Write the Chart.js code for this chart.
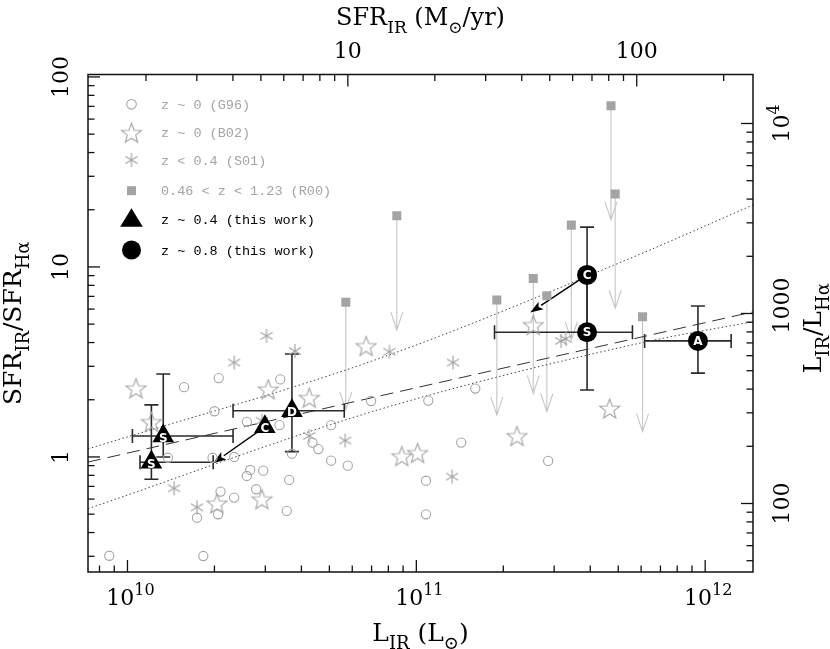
<!DOCTYPE html>
<html>
<head>
<meta charset="utf-8">
<script src="https://cdn.jsdelivr.net/npm/chart.js@4.4.0/dist/chart.umd.min.js"></script>
<style>
  html, body { margin: 0; padding: 0; background: #fff; }
  #wrap { width: 830px; height: 649px; position: relative; }
</style>
</head>
<body>
<div id="wrap"><canvas id="myChart"></canvas></div>
<script>
// values (L_IR in Lsun, ratio = SFR_IR / SFR_Halpha)

// z ~ 0 (G96), open circles
const g96L = [8.65e9, 1.83e10, 1.57e10, 2.07e10, 3.38e10, 2.00e10, 2.59e10, 3.36e10, 1.38e10, 1.97e10, 2.34e10, 3.71e10,
  4.37e10, 4.58e10, 5.07e10, 5.07e10, 5.79e10, 6.97e10, 2.66e10, 2.59e10, 2.95e10, 3.63e10, 2.79e10, 2.10e10,
  2.34e10, 2.06e10, 1.74e10, 3.56e10, 1.10e11, 1.60e11, 1.43e11, 2.86e11, 1.08e11, 1.08e11];
const g96Ratio = [0.302, 0.301, 2.33, 2.60, 2.56, 1.74, 1.53, 1.47, 0.99, 0.99, 1.00, 1.04,
  1.19, 1.10, 1.47, 0.956, 0.900, 1.97, 0.854, 0.794, 0.847, 0.757, 0.676, 0.657,
  0.611, 0.499, 0.479, 0.520, 1.98, 2.29, 1.19, 0.953, 0.750, 0.499];

// z ~ 0 (B02), open stars
const b02L = [1.07e10, 1.21e10, 3.07e10, 4.26e10, 6.70e10, 2.04e10, 2.92e10, 2.54e11, 4.67e11, 2.23e11, 8.91e10, 1.01e11];
const b02Ratio = [2.30, 1.53, 2.27, 2.05, 3.84, 0.570, 0.599, 4.95, 1.80, 1.29, 1.01, 1.05];

// z < 0.4 (S01), asterisks
const s01L = [3.03e10, 2.34e10, 3.80e10, 4.26e10, 5.67e10, 1.45e10, 1.74e10, 2.92e10, 8.07e10, 1.34e11, 3.17e11, 3.29e11, 1.33e11];
const s01Ratio = [4.34, 3.14, 3.61, 1.29, 1.22, 0.684, 0.543, 1.55, 3.58, 3.14, 4.08, 4.18, 0.788];

// 0.46 < z < 1.23 (R00), filled squares with arrows down to r00Limit
const r00L = [5.70e10, 8.56e10, 1.90e11, 2.54e11, 2.83e11, 3.44e11, 4.72e11, 4.88e11, 6.07e11];
const r00Ratio = [6.52, 18.6, 6.70, 8.69, 7.06, 16.6, 70.6, 24.2, 5.47];
const r00Limit = [1.77, 4.66, 1.66, 2.16, 1.73, 4.13, 17.7, 6.06, 1.36];

// z ~ 0.4 (this work), triangles
const z04Tag = ['S', 'S', 'D', 'C'];
const z04L = [1.33e10, 1.21e10, 3.71e10, 2.99e10];
const z04Ratio = [1.29, 0.938, 1.75, 1.44];
const z04LLo = [1.04e10, 1.105e10, 2.32e10, null];
const z04LHi = [2.32e10, 1.98e10, 5.63e10, null];
const z04RatioLo = [1.00, 0.763, 1.066, null];
const z04RatioHi = [2.73, 1.88, 3.48, null];

// z ~ 0.8 (this work), filled circles
const z08Tag = ['C', 'S', 'A'];
const z08L = [3.90e11, 3.90e11, 9.44e11];
const z08Ratio = [9.08, 4.53, 4.08];
const z08LLo = [null, 1.865e11, 6.17e11];
const z08LHi = [null, 5.60e11, 1.23e12];
const z08RatioLo = [4.53, 2.25, 2.76];
const z08RatioHi = [16.2, 9.08, 6.23];

// shift arrows
const shiftFromL = [2.99e10, 3.90e11];
const shiftFromRatio = [1.44, 9.08];
const shiftToL = [1.98e10, 2.48e11];
const shiftToRatio = [0.927, 5.75];

// relations drawn as lines
const fitDashL = [7.3e9, 6.92e10, 1.464e12];
const fitDashRatio = [0.94, 2.04, 5.80];
const fitHiL = [7.3e9, 7.49e10, 5.50e11, 1.464e12];
const fitHiRatio = [1.102, 3.31, 11.1, 21.2];
const fitLoL = [7.3e9, 7.49e10, 6.12e11, 1.464e12];
const fitLoRatio = [0.534, 1.782, 4.01, 5.15];

const legendLabels = ['z ~ 0 (G96)', 'z ~ 0 (B02)', 'z < 0.4 (S01)', '0.46 < z < 1.23 (R00)', 'z ~ 0.4 (this work)', 'z ~ 0.8 (this work)'];

// axis ranges and conversions for the top / right axes
const xMin = 7.3e9, xMax = 1.464e12;
const yMin = 0.248, yMax = 103;
const SFR_PER_LIR = 1.726e-10;
const LRATIO_PER_SFRRATIO = 175.8;

const GREY = '#a4a4a4';
const LIMIT_GREY = '#c6c6c6';
const SERIF = '"DejaVu Serif", "Liberation Serif", serif';

const pts = (xs, ys) => xs.map((x, i) => ({ x: x, y: ys[i] }));

function makeStar(R, color) {
  const s = Math.ceil(2 * R + 4);
  const c = document.createElement('canvas');
  c.width = s; c.height = s;
  const g = c.getContext('2d');
  g.translate(s / 2, s / 2 + R * 0.1);
  g.beginPath();
  for (let i = 0; i < 10; i++) {
    const r = i % 2 ? R * 0.42 : R;
    const a = -Math.PI / 2 + i * Math.PI / 5;
    g.lineTo(r * Math.cos(a), r * Math.sin(a));
  }
  g.closePath();
  g.strokeStyle = color; g.lineWidth = 1.1; g.stroke();
  return c;
}

function makeAsterisk(R, color) {
  const s = Math.ceil(2 * R + 4);
  const c = document.createElement('canvas');
  c.width = s; c.height = s;
  const g = c.getContext('2d');
  g.translate(s / 2, s / 2);
  g.strokeStyle = color; g.lineWidth = 1.2;
  [90, 30, -30].forEach(d => {
    const a = d * Math.PI / 180;
    g.beginPath();
    g.moveTo(-R * Math.cos(a), -R * Math.sin(a));
    g.lineTo(R * Math.cos(a), R * Math.sin(a));
    g.stroke();
  });
  return c;
}

const starImg = makeStar(10.5, GREY);
const asteriskImg = makeAsterisk(7, GREY);

// text with sub/superscripts: parts = [[text, 'n'|'sub'|'sup'], ...]
function rich(ctx, parts, x, y, size, align) {
  const small = Math.round(size * 0.72);
  let w = 0;
  const items = parts.map(([t, k]) => {
    const fs = k === 'n' ? size : small;
    ctx.font = fs + 'px ' + SERIF;
    const tw = ctx.measureText(t).width;
    w += tw;
    return { t: t, k: k, fs: fs, tw: tw };
  });
  let cx = align === 'center' ? x - w / 2 : (align === 'right' ? x - w : x);
  ctx.textAlign = 'left';
  ctx.textBaseline = 'alphabetic';
  items.forEach(it => {
    ctx.font = it.fs + 'px ' + SERIF;
    const dy = it.k === 'sub' ? size * 0.32 : (it.k === 'sup' ? -size * 0.45 : 0);
    ctx.fillText(it.t, cx, y + dy);
    cx += it.tw;
  });
}

function richRot(ctx, parts, x, y, size) {
  ctx.save();
  ctx.translate(x, y);
  ctx.rotate(-Math.PI / 2);
  rich(ctx, parts, 0, 0, size, 'center');
  ctx.restore();
}

function logValues(min, max) {
  const out = [];
  for (let e = Math.floor(Math.log10(min)); e <= Math.ceil(Math.log10(max)); e++) {
    for (let m = 1; m < 10; m++) {
      const v = m * Math.pow(10, e);
      if (v >= min * 0.9999 && v <= max * 1.0001) out.push({ v: v, major: m === 1 });
    }
  }
  return out;
}

function drawTicks(ctx, scale, side, a) {
  logValues(scale.min, scale.max).forEach(t => {
    const len = t.major ? 12 : 6.5;
    const p = scale.getPixelForValue(t.v);
    ctx.beginPath();
    if (side === 'bottom') { ctx.moveTo(p, a.bottom); ctx.lineTo(p, a.bottom - len); }
    if (side === 'top') { ctx.moveTo(p, a.top); ctx.lineTo(p, a.top + len); }
    if (side === 'left') { ctx.moveTo(a.left, p); ctx.lineTo(a.left + len, p); }
    if (side === 'right') { ctx.moveTo(a.right, p); ctx.lineTo(a.right - len, p); }
    ctx.stroke();
  });
}

function errorBars(ctx, xs, ys, L, R, lLo, lHi, rLo, rHi) {
  const cap = 7;
  for (let i = 0; i < L.length; i++) {
    const px = xs.getPixelForValue(L[i]);
    const py = ys.getPixelForValue(R[i]);
    if (lLo[i] != null) {
      const a = xs.getPixelForValue(lLo[i]), b = xs.getPixelForValue(lHi[i]);
      ctx.beginPath();
      ctx.moveTo(a, py); ctx.lineTo(b, py);
      ctx.moveTo(a, py - cap); ctx.lineTo(a, py + cap);
      ctx.moveTo(b, py - cap); ctx.lineTo(b, py + cap);
      ctx.stroke();
    }
    if (rLo[i] != null) {
      const a = ys.getPixelForValue(rLo[i]), b = ys.getPixelForValue(rHi[i]);
      ctx.beginPath();
      ctx.moveTo(px, a); ctx.lineTo(px, b);
      ctx.moveTo(px - cap, a); ctx.lineTo(px + cap, a);
      ctx.moveTo(px - cap, b); ctx.lineTo(px + cap, b);
      ctx.stroke();
    }
  }
}

const figurePlugin = {
  id: 'figure',
  beforeDatasetsDraw(chart) {
    const ctx = chart.ctx;
    const xs = chart.scales.x, ys = chart.scales.y;
    ctx.save();
    // upper-limit arrows of R00
    ctx.strokeStyle = LIMIT_GREY;
    ctx.lineWidth = 1.1;
    r00L.forEach((L, i) => {
      const px = xs.getPixelForValue(L);
      const y0 = ys.getPixelForValue(r00Ratio[i]);
      const y1 = ys.getPixelForValue(r00Limit[i]);
      ctx.beginPath();
      ctx.moveTo(px, y0); ctx.lineTo(px, y1);
      ctx.moveTo(px - 6, y1 - 18); ctx.lineTo(px, y1); ctx.lineTo(px + 6, y1 - 18);
      ctx.stroke();
    });
    // error bars
    ctx.strokeStyle = '#2a2a2a';
    ctx.lineWidth = 1.6;
    errorBars(ctx, xs, ys, z04L, z04Ratio, z04LLo, z04LHi, z04RatioLo, z04RatioHi);
    errorBars(ctx, xs, ys, z08L, z08Ratio, z08LLo, z08LHi, z08RatioLo, z08RatioHi);
    // shift arrows
    ctx.strokeStyle = '#000';
    ctx.fillStyle = '#000';
    ctx.lineWidth = 1.4;
    shiftFromL.forEach((L, i) => {
      const x0 = xs.getPixelForValue(L), y0 = ys.getPixelForValue(shiftFromRatio[i]);
      const x1 = xs.getPixelForValue(shiftToL[i]), y1 = ys.getPixelForValue(shiftToRatio[i]);
      const ang = Math.atan2(y1 - y0, x1 - x0);
      const hl = 13, hw = 4.5;
      const bx = x1 - hl * Math.cos(ang), by = y1 - hl * Math.sin(ang);
      ctx.beginPath();
      ctx.moveTo(x0, y0); ctx.lineTo(bx, by);
      ctx.stroke();
      ctx.beginPath();
      ctx.moveTo(x1, y1);
      ctx.lineTo(bx + hw * Math.sin(ang), by - hw * Math.cos(ang));
      ctx.lineTo(bx + 3 * Math.cos(ang), by + 3 * Math.sin(ang));
      ctx.lineTo(bx - hw * Math.sin(ang), by + hw * Math.cos(ang));
      ctx.closePath();
      ctx.fill();
    });
    ctx.restore();
  },
  afterDatasetsDraw(chart) {
    const ctx = chart.ctx;
    const a = chart.chartArea;
    const xs = chart.scales.x, ys = chart.scales.y;
    ctx.save();

    // tags inside the black symbols
    ctx.fillStyle = '#fff';
    ctx.font = 'bold 12px "DejaVu Sans", Arial, sans-serif';
    ctx.textAlign = 'center';
    ctx.textBaseline = 'middle';
    z04Tag.forEach((t, i) => ctx.fillText(t, xs.getPixelForValue(z04L[i]), ys.getPixelForValue(z04Ratio[i]) + 2.5));
    z08Tag.forEach((t, i) => ctx.fillText(t, xs.getPixelForValue(z08L[i]), ys.getPixelForValue(z08Ratio[i]) + 0.5));

    // frame and ticks
    ctx.strokeStyle = '#111';
    ctx.lineWidth = 1.5;
    ctx.strokeRect(a.left, a.top, a.right - a.left, a.bottom - a.top);
    ctx.lineWidth = 1.3;
    drawTicks(ctx, xs, 'bottom', a);
    drawTicks(ctx, chart.scales.x2, 'top', a);
    drawTicks(ctx, ys, 'left', a);
    drawTicks(ctx, chart.scales.y2, 'right', a);

    // tick labels
    ctx.fillStyle = '#000';
    [10, 11, 12].forEach(e => {
      rich(ctx, [['10', 'n'], [String(e), 'sup']], xs.getPixelForValue(Math.pow(10, e)) + 3, 605, 22, 'center');
    });
    [10, 100].forEach(v => {
      rich(ctx, [[String(v), 'n']], chart.scales.x2.getPixelForValue(v), 58, 22, 'center');
    });
    [1, 10, 100].forEach(v => {
      richRot(ctx, [[String(v), 'n']], 68, ys.getPixelForValue(v), 22);
    });
    richRot(ctx, [['100', 'n']], 789, chart.scales.y2.getPixelForValue(100), 22);
    richRot(ctx, [['1000', 'n']], 789, chart.scales.y2.getPixelForValue(1000) - 8, 22);
    richRot(ctx, [['10', 'n'], ['4', 'sup']], 789, chart.scales.y2.getPixelForValue(10000), 22);

    // axis titles
    const cx = (a.left + a.right) / 2, cy = (a.top + a.bottom) / 2;
    rich(ctx, [['SFR', 'n'], ['IR', 'sub'], [' (M', 'n'], ['\u2299', 'sub'], ['/yr)', 'n']], cx, 25, 24, 'center');
    rich(ctx, [['L', 'n'], ['IR', 'sub'], [' (L', 'n'], ['\u2299', 'sub'], [')', 'n']], cx, 641, 25, 'center');
    richRot(ctx, [['SFR', 'n'], ['IR', 'sub'], ['/SFR', 'n'], ['H\u03b1', 'sub']], 21, cy, 25);
    richRot(ctx, [['L', 'n'], ['IR', 'sub'], ['/L', 'n'], ['H\u03b1', 'sub']], 821, cy + 5, 25);

    // legend
    const lx = 131.5, tx = 161;
    const rows = [104.3, 132.7, 160, 190.7, 219.3, 250];
    ctx.strokeStyle = GREY;
    ctx.lineWidth = 1.1;
    ctx.beginPath(); ctx.arc(lx, rows[0], 4.8, 0, 2 * Math.PI); ctx.stroke();
    ctx.drawImage(starImg, lx - starImg.width / 2, rows[1] - starImg.height / 2);
    ctx.drawImage(asteriskImg, lx - asteriskImg.width / 2, rows[2] - asteriskImg.height / 2);
    ctx.fillStyle = GREY;
    ctx.fillRect(lx - 4.5, rows[3] - 4.5, 9, 9);
    ctx.fillStyle = '#000';
    ctx.beginPath();
    ctx.moveTo(lx, rows[4] - 11); ctx.lineTo(lx + 11.3, rows[4] + 7.5); ctx.lineTo(lx - 11.3, rows[4] + 7.5);
    ctx.closePath(); ctx.fill();
    ctx.beginPath(); ctx.arc(lx, rows[5], 9.5, 0, 2 * Math.PI); ctx.fill();

    ctx.font = '13.5px "Liberation Mono", "DejaVu Sans Mono", monospace';
    ctx.textAlign = 'left';
    ctx.textBaseline = 'middle';
    legendLabels.forEach((t, i) => {
      ctx.fillStyle = i < 4 ? GREY : '#000';
      ctx.fillText(t, tx, rows[i] + 1);
    });
    ctx.restore();
  }
};

const ctx = document.getElementById('myChart');

new Chart(ctx, {
  type: 'scatter',
  data: {
    datasets: [
      { data: pts(fitDashL, fitDashRatio), showLine: true, borderColor: '#333', borderWidth: 1, borderDash: [13, 7],
        pointRadius: 0, order: 10 },
      { data: pts(fitHiL, fitHiRatio), showLine: true, borderColor: '#444', borderWidth: 1, borderDash: [1.5, 2.5],
        pointRadius: 0, cubicInterpolationMode: 'monotone', order: 10 },
      { data: pts(fitLoL, fitLoRatio), showLine: true, borderColor: '#444', borderWidth: 1, borderDash: [1.5, 2.5],
        pointRadius: 0, cubicInterpolationMode: 'monotone', order: 10 },
      { data: pts(g96L, g96Ratio), pointStyle: 'circle', pointRadius: 4.6, borderColor: GREY, borderWidth: 1.1,
        backgroundColor: 'rgba(0,0,0,0)', order: 8 },
      { data: pts(b02L, b02Ratio), pointStyle: starImg, pointRadius: 6, order: 8 },
      { data: pts(s01L, s01Ratio), pointStyle: asteriskImg, pointRadius: 6, order: 8 },
      { data: pts(r00L, r00Ratio), pointStyle: 'rect', pointRadius: 6.4, borderWidth: 0, backgroundColor: GREY, order: 7 },
      { data: pts(z04L, z04Ratio), pointStyle: 'triangle', pointRadius: 12.5, borderWidth: 0, backgroundColor: '#000', order: 2 },
      { data: pts(z08L, z08Ratio), pointStyle: 'circle', pointRadius: 10, borderWidth: 0, backgroundColor: '#000', order: 2 }
    ]
  },
  options: {
    responsive: true,
    maintainAspectRatio: false,
    animation: false,
    events: [],
    layout: { padding: { left: 88, right: 77, top: 74.5, bottom: 77 } },
    plugins: { legend: { display: false }, tooltip: { enabled: false } },
    scales: {
      x: { type: 'logarithmic', position: 'bottom', min: xMin, max: xMax, display: false },
      y: { type: 'logarithmic', position: 'left', min: yMin, max: yMax, display: false },
      x2: { type: 'logarithmic', position: 'top', min: xMin * SFR_PER_LIR, max: xMax * SFR_PER_LIR, display: false },
      y2: { type: 'logarithmic', position: 'right', min: yMin * LRATIO_PER_SFRRATIO, max: yMax * LRATIO_PER_SFRRATIO, display: false }
    }
  },
  plugins: [figurePlugin]
});
</script>
</body>
</html>
